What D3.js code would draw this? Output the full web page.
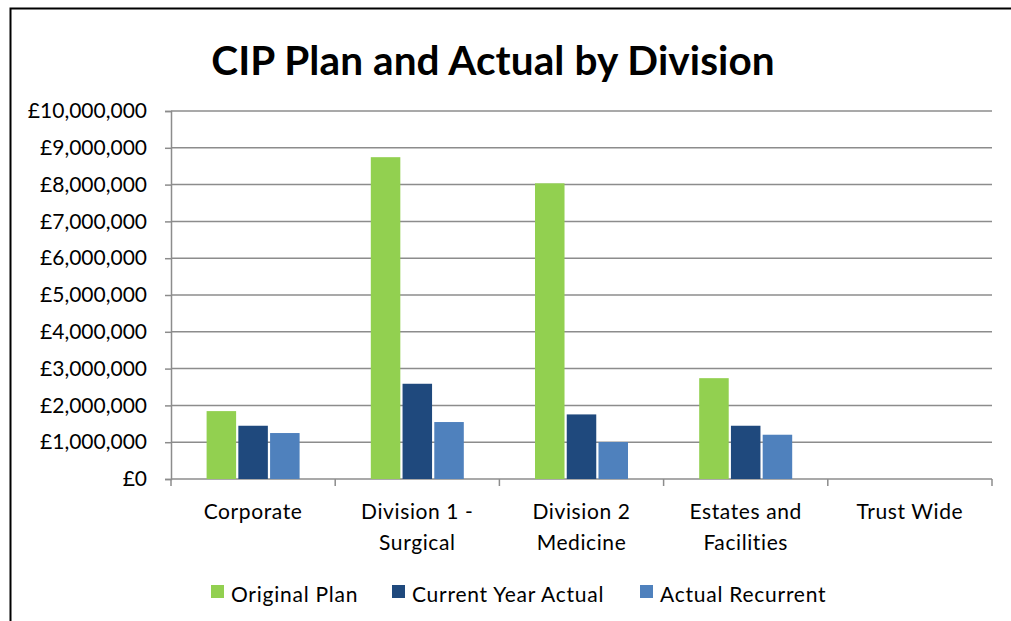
<!DOCTYPE html>
<html>
<head>
<meta charset="utf-8">
<script src="https://cdn.jsdelivr.net/npm/d3@7"></script>
<style>
  body { margin: 0; background: #fff; }
  svg { display: block; font-family: Lato, "Open Sans", sans-serif; }
</style>
</head>
<body>
<div id="chart"></div>
<script>
  // chart data
  var divisions = ["Corporate", "Division 1 - Surgical", "Division 2 Medicine", "Estates and Facilities", "Trust Wide"];
  var divisionLines = [["Corporate"], ["Division 1 -", "Surgical"], ["Division 2", "Medicine"], ["Estates and", "Facilities"], ["Trust Wide"]];
  var seriesNames = ["Original Plan", "Current Year Actual", "Actual Recurrent"];
  var originalPlan = [1845000, 8745000, 8035000, 2740000, 0];
  var currentYearActual = [1447000, 2588000, 1755000, 1447000, 0];
  var actualRecurrent = [1249000, 1548000, 1005000, 1203000, 0];
  var yTicks = [0, 1000000, 2000000, 3000000, 4000000, 5000000, 6000000, 7000000, 8000000, 9000000, 10000000];
  var colors = ["#92D050", "#1F497D", "#4F81BD"];

  var seriesValues = [originalPlan, currentYearActual, actualRecurrent];

  var w = 1011, h = 621;
  var plot = { left: 171, right: 992, top: 111, bottom: 479 };

  var svg = d3.select("#chart").append("svg")
    .attr("width", w).attr("height", h);

  // outer frame (only top and left show in the picture)
  svg.append("path")
    .attr("d", "M10.5," + h + "V8.5H" + w)
    .attr("fill", "none").attr("stroke", "#000").attr("stroke-width", 2);

  svg.append("text")
    .attr("x", 493).attr("y", 75)
    .attr("text-anchor", "middle")
    .attr("font-size", 40.5).attr("font-weight", "bold")
    .attr("letter-spacing", 0.1)
    .text("CIP Plan and Actual by Division");

  var x0 = d3.scaleBand().domain(divisions).range([plot.left, plot.right]);
  var groupW = 93;
  var x1 = d3.scaleBand().domain(seriesNames)
    .range([x0.bandwidth() / 2 - groupW / 2, x0.bandwidth() / 2 + groupW / 2])
    .paddingInner(0.07);
  var y = d3.scaleLinear().domain([0, 10000000]).range([plot.bottom, plot.top]);

  var fmt = function(v) { return "\u00a3" + d3.format(",")(v); };

  // gridlines + y axis
  var yAxis = svg.append("g")
    .attr("transform", "translate(" + plot.left + ",0)")
    .call(d3.axisLeft(y).tickValues(yTicks).tickSize(6).tickPadding(18).tickFormat(fmt));
  yAxis.select(".domain").attr("stroke", "#8c8c8c").attr("stroke-width", 1.5);
  yAxis.selectAll(".tick line").attr("stroke", "#8c8c8c").attr("stroke-width", 1.5);
  yAxis.selectAll(".tick text").attr("font-size", 21).attr("fill", "#000")
    .attr("font-family", "Lato, sans-serif");

  svg.append("g").selectAll("line").data(yTicks).enter().append("line")
    .attr("x1", plot.left).attr("x2", plot.right)
    .attr("y1", function(d) { return y(d); }).attr("y2", function(d) { return y(d); })
    .attr("stroke", "#8c8c8c").attr("stroke-width", 1.5);

  // x axis boundary ticks
  var xAxis = svg.append("g")
    .attr("transform", "translate(0," + plot.bottom + ")");
  var bounds = divisions.map(function(d) { return x0(d); }).concat([plot.right]);
  xAxis.selectAll("line").data(bounds).enter().append("line")
    .attr("x1", function(d) { return d; }).attr("x2", function(d) { return d; })
    .attr("y1", 0).attr("y2", 7)
    .attr("stroke", "#8c8c8c").attr("stroke-width", 1.5);

  // bars
  var groups = svg.append("g").selectAll("g").data(divisions).enter().append("g")
    .attr("transform", function(d) { return "translate(" + x0(d) + ",0)"; });
  groups.selectAll("rect")
    .data(function(d, i) { return seriesNames.map(function(s, j) { return { s: s, v: seriesValues[j][i], c: colors[j] }; }); })
    .enter().append("rect")
    .attr("x", function(d) { return x1(d.s); })
    .attr("width", x1.bandwidth())
    .attr("y", function(d) { return y(d.v); })
    .attr("height", function(d) { return y(0) - y(d.v); })
    .attr("fill", function(d) { return d.c; });

  // category labels
  var cat = svg.append("g").selectAll("text").data(divisions).enter().append("text")
    .attr("text-anchor", "middle").attr("font-size", 21).attr("letter-spacing", 0.6)
    .attr("x", function(d) { return x0(d) + x0.bandwidth() / 2; })
    .attr("y", 519);
  cat.each(function(d, i) {
    d3.select(this).selectAll("tspan").data(divisionLines[i]).enter().append("tspan")
      .attr("x", x0(d) + x0.bandwidth() / 2)
      .attr("dy", function(t, k) { return k === 0 ? 0 : 31; })
      .text(function(t) { return t; });
  });

  // legend
  var legendX = [211, 392, 640];
  var legend = svg.append("g").selectAll("g").data(seriesNames).enter().append("g")
    .attr("transform", function(d, i) { return "translate(" + legendX[i] + ",585)"; });
  legend.append("rect").attr("width", 13).attr("height", 13)
    .attr("fill", function(d, i) { return colors[i]; });
  legend.append("text").attr("x", 20).attr("y", 17).attr("font-size", 21)
    .attr("letter-spacing", 0.75)
    .text(function(d) { return d; });
</script>
</body>
</html>
